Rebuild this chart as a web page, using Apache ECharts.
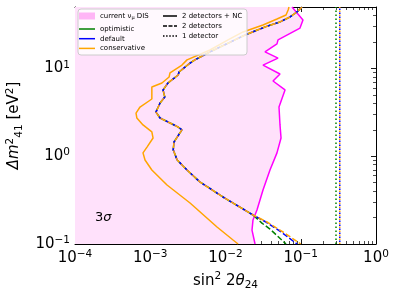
<!DOCTYPE html>
<html><head><meta charset="utf-8">
<script src="https://cdn.jsdelivr.net/npm/echarts@6/dist/echarts.min.js"></script>
<style>html,body{margin:0;padding:0;background:#fff}#c{width:399px;height:299px}</style>
</head><body><div id="c"></div>
<script>
// ---- axis ranges / tick labels (log10 exponents) ----
const xLimits = [1e-4, 1];
const yLimits = [0.1, 50];
const xTickExp = [-4, -3, -2, -1, 0];
const yTickExp = [-1, 0, 1];

// ---- current nu_mu DIS boundary (magenta) ----
const disX = [0.0766, 0.107, 0.0977, 0.0499, 0.0483, 0.0335, 0.0499, 0.0315, 0.053, 0.0428, 0.0618, 0.0514, 0.053, 0.0547, 0.0483, 0.039, 0.0315, 0.0262, 0.0232, 0.0225, 0.0247];
const disY = [50, 35.6, 28.8, 21.1, 19.0, 15.4, 13.1, 10.9, 8.63, 7.18, 5.68, 3.63, 2.27, 1.61, 1.09, 0.696, 0.412, 0.244, 0.188, 0.144, 0.1];

// ---- conservative, 2 detectors + NC (orange solid) ----
const consNCx = [0.0698, 0.068, 0.0637, 0.0483, 0.0315, 0.0171, 0.0108, 0.00622, 0.00308, 0.00264, 0.00183, 0.00178, 0.00143, 0.00105, 0.00105, 0.000731, 0.000647, 0.000664, 0.000801, 0.00105, 0.00109, 0.000905, 0.000801, 0.000852, 0.00105, 0.00167, 0.00338, 0.00771, 0.0126, 0.0147];
const consNCy = [50, 46.2, 40.6, 36.5, 31.2, 26.0, 21.1, 16.2, 12.5, 10.9, 8.87, 7.98, 6.82, 6.14, 4.48, 3.63, 3.10, 2.72, 2.27, 1.89, 1.61, 1.27, 1.09, 0.905, 0.696, 0.470, 0.293, 0.156, 0.111, 0.1];

// ---- 2 detectors (dashed) ----
const cons2x = [0.104, 0.0891, 0.072, 0.053, 0.0335, 0.0182, 0.00622, 0.00393, 0.00338, 0.00241, 0.00235, 0.00172, 0.00148, 0.00156, 0.00135, 0.00119, 0.00135, 0.00183, 0.00234, 0.00264, 0.00248, 0.00207, 0.00202, 0.00228, 0.00308, 0.00458, 0.00926, 0.0232, 0.0356, 0.0581, 0.1];
const cons2y = [50, 43.9, 38.5, 33.8, 29.6, 24.0, 15.4, 12.5, 11.5, 9.10, 8.41, 6.82, 5.68, 4.72, 4.04, 3.18, 2.72, 2.39, 2.15, 1.99, 1.84, 1.45, 1.18, 0.905, 0.696, 0.508, 0.343, 0.214, 0.178, 0.137, 0.1];
const def2x = [0.104, 0.0891, 0.072, 0.053, 0.0335, 0.0182, 0.00622, 0.00393, 0.00338, 0.00241, 0.00235, 0.00172, 0.00148, 0.00156, 0.00135, 0.00119, 0.00135, 0.00183, 0.00234, 0.00264, 0.00248, 0.00207, 0.00202, 0.00228, 0.00308, 0.00458, 0.00926, 0.0232, 0.0345, 0.0547, 0.0891];
const def2y = [50, 43.9, 38.5, 33.8, 29.6, 24.0, 15.4, 12.5, 11.5, 9.10, 8.41, 6.82, 5.68, 4.72, 4.04, 3.18, 2.72, 2.39, 2.15, 1.99, 1.84, 1.45, 1.18, 0.905, 0.696, 0.508, 0.343, 0.214, 0.178, 0.137, 0.1];
const opt2x = [0.104, 0.0891, 0.072, 0.053, 0.0335, 0.0182, 0.00622, 0.00393, 0.00338, 0.00241, 0.00235, 0.00172, 0.00148, 0.00156, 0.00135, 0.00119, 0.00135, 0.00183, 0.00234, 0.00264, 0.00248, 0.00207, 0.00202, 0.00228, 0.00308, 0.00458, 0.00926, 0.0232, 0.0305, 0.039, 0.0637];
const opt2y = [50, 43.9, 38.5, 33.8, 29.6, 24.0, 15.4, 12.5, 11.5, 9.10, 8.41, 6.82, 5.68, 4.72, 4.04, 3.18, 2.72, 2.39, 2.15, 1.99, 1.84, 1.45, 1.18, 0.905, 0.696, 0.508, 0.343, 0.214, 0.173, 0.148, 0.1];

// ---- 1 detector (dotted) ----
const opt1x = [0.294, 0.294];
const opt1y = [0.1, 50];
const def1x = [0.33, 0.33];
const def1y = [0.1, 50];
const cons1x = [0.33, 0.33];
const cons1y = [0.1, 50];

const F = 'DejaVu Sans';
const L = Math.log10;
const pairs = (xs, ys) => xs.map((x, i) => [L(x), L(ys[i])]);

const minorExp = (lo, hi) => {
  const out = [];
  for (let d = lo; d < hi; d++) for (let k = 2; k <= 9; k++) {
    const v = L(k) + d; if (v < hi) out.push(v);
  }
  return out;
};
const yMax = L(yLimits[1]);
const xMinor = minorExp(-4, 0);
const yMinor = minorExp(-1, yMax);

const fmt = v => { const e = Math.round(v); return '{b|10}{s|' + (e < 0 ? '\u2212' + (-e) : String(e)) + '}'; };
const labRich = {
  b: {fontSize: 15, fontFamily: F, color: '#000', lineHeight: 18},
  s: {fontSize: 10.5, fontFamily: F, color: '#000', lineHeight: 10, verticalAlign: 'top'}
};

function ax(o) {
  return Object.assign({
    type: 'value', splitLine: {show: false},
    axisLine: {show: true, onZero: false, lineStyle: {color: '#000', width: 1}},
    axisTick: {show: false},
    axisLabel: {show: false}
  }, o);
}
const hiddenLine = {show: false, onZero: false};
const majTick = vals => ({show: true, inside: true, length: 5, customValues: vals, lineStyle: {color: '#000', width: 0.9}});
const minTick = vals => ({show: true, inside: true, length: 3, customValues: vals, lineStyle: {color: '#000', width: 0.7}});

const xr = {min: L(xLimits[0]), max: L(xLimits[1])};
const yr = {min: L(yLimits[0]), max: yMax};

const xAxis = [
  ax(Object.assign({gridIndex: 0, position: 'bottom', axisTick: majTick(xTickExp),
    axisLabel: {show: true, customValues: xTickExp, formatter: fmt, rich: labRich, fontSize: 15, margin: 5, showMinLabel: true, showMaxLabel: true, hideOverlap: false},
    name: '{n|sin}{sup|2}{n| 2}{i|\u03b8}{sub|24}', nameLocation: 'middle', nameGap: 27,
    nameTextStyle: {fontSize: 15, fontFamily: F, color: '#000', rich: {
      n: {fontSize: 15, fontFamily: F, color: '#000', lineHeight: 20},
      i: {fontSize: 15, fontFamily: F, color: '#000', fontStyle: 'italic', lineHeight: 20},
      sup: {fontSize: 10.5, fontFamily: F, color: '#000', lineHeight: 12, verticalAlign: 'top'},
      sub: {fontSize: 10.5, fontFamily: F, color: '#000', lineHeight: 12, verticalAlign: 'bottom'}
    }}}, xr)),
  ax(Object.assign({gridIndex: 0, position: 'top', axisTick: majTick(xTickExp)}, xr)),
  ax(Object.assign({gridIndex: 1, position: 'bottom', axisLine: hiddenLine, axisTick: minTick(xMinor)}, xr)),
  ax(Object.assign({gridIndex: 1, position: 'top', axisLine: hiddenLine, axisTick: minTick(xMinor)}, xr))
];
const yAxis = [
  ax(Object.assign({gridIndex: 0, position: 'left', axisTick: majTick(yTickExp),
    axisLabel: {show: true, customValues: yTickExp, formatter: fmt, rich: labRich, fontSize: 15, margin: 5, showMinLabel: true, showMaxLabel: true, hideOverlap: false},
    name: '{i|\u0394m}{sup|2}{sub|41}{n| [eV}{sup|2}{n|]}', nameLocation: 'middle', nameGap: 50,
    nameTextStyle: {fontSize: 15, fontFamily: F, color: '#000', rich: {
      n: {fontSize: 15, fontFamily: F, color: '#000', lineHeight: 20},
      i: {fontSize: 15, fontFamily: F, color: '#000', fontStyle: 'italic', lineHeight: 20},
      sup: {fontSize: 10.5, fontFamily: F, color: '#000', lineHeight: 12, verticalAlign: 'top'},
      sub: {fontSize: 10.5, fontFamily: F, color: '#000', lineHeight: 12, verticalAlign: 'bottom'}
    }}}, yr)),
  ax(Object.assign({gridIndex: 0, position: 'right', axisTick: majTick(yTickExp)}, yr)),
  ax(Object.assign({gridIndex: 1, position: 'left', axisLine: hiddenLine, axisTick: minTick(yMinor)}, yr)),
  ax(Object.assign({gridIndex: 1, position: 'right', axisLine: hiddenLine, axisTick: minTick(yMinor)}, yr))
];

const lineS = (name, xs, ys, color, type, z, off) => ({
  name, type: 'line', xAxisIndex: 0, yAxisIndex: 0, data: pairs(xs, ys), showSymbol: false, symbol: 'none',
  z, silent: true, animation: false, clip: true,
  lineStyle: {color, width: 1.5, type, dashOffset: off || 0}, color
});
const dummy = (name, color) => ({name, type: 'line', data: [], color, showSymbol: false, lineStyle: {color}});

const DASH = [5.5, 2.4], DOT = [1.5, 2.5];
const series = [
  {
    name: 'current \u03bd_\u03bc DIS', type: 'custom', xAxisIndex: 0, yAxisIndex: 0, z: 1, silent: true, clip: true,
    color: '#ffb5f6', data: [[-2, 0]],
    renderItem: (params, api) => {
      const pts = disX.map((x, i) => api.coord([L(x), L(disY[i])]));
      pts.push(api.coord([L(xLimits[0]), L(yLimits[0])]));
      pts.push(api.coord([L(xLimits[0]), L(yLimits[1])]));
      return {type: 'polygon', shape: {points: pts}, style: {fill: '#ffe1fb', stroke: null}};
    }
  },
  lineS('disLine', disX, disY, '#ff00ff', 'solid', 3),
  lineS('consNC', consNCx, consNCy, '#ffa500', 'solid', 4),
  lineS('opt2', opt2x, opt2y, '#008000', DASH, 5, 5.2),
  lineS('def2', def2x, def2y, '#0000ff', DASH, 6, 2.6),
  lineS('cons2', cons2x, cons2y, '#ffa500', DASH, 7, 0),
  lineS('opt1', opt1x, opt1y, '#008000', DOT, 5, 0),
  lineS('def1', def1x, def1y, '#0000ff', DOT, 6, 2),
  lineS('cons1', cons1x, cons1y, '#ffa500', DOT, 7, 0),
  dummy('optimistic', '#008000'),
  dummy('default', '#0000ff'),
  dummy('conservative', '#ffa500'),
  dummy('2 detectors + NC', '#000'),
  dummy('2 detectors', '#000'),
  dummy('1 detector', '#000')
];

const solid16 = 'path://M0,0H16V1.5H0Z';
const solid14 = 'path://M0,0H14V1.5H0Z';
const dash14 = 'path://M0,0H4V1.5H0ZM5.5,0H9.5V1.5H5.5ZM11,0H14V1.5H11Z';
const dot14 = 'path://M0,0H1.5V1.5H0ZM3.1,0H4.6V1.5H3.1ZM6.25,0H7.75V1.5H6.25ZM9.4,0H10.9V1.5H9.4ZM12.5,0H14V1.5H12.5Z';

const legTxt = {fontSize: 7, fontFamily: F, color: '#000', lineHeight: 9,
  rich: {sub: {fontSize: 5, fontFamily: F, color: '#000', verticalAlign: 'bottom', lineHeight: 7}}};
const legBase = {orient: 'vertical', padding: 0, selectedMode: false, z: 20, textStyle: legTxt, itemStyle: {borderWidth: 0}};

const option = {
  animation: false,
  backgroundColor: '#fff',
  grid: [
    {left: 75, right: 23, top: 7, bottom: 55, outerBoundsMode: 'none', containLabel: false},
    {left: 75, right: 23, top: 7, bottom: 55, outerBoundsMode: 'none', containLabel: false}
  ],
  xAxis, yAxis, series,
  legend: [
    Object.assign({}, legBase, {left: 79, top: 11.5, itemWidth: 16, itemHeight: 7, itemGap: 1,
      data: [{name: 'current \u03bd_\u03bc DIS', icon: 'rect'}],
      formatter: () => 'current \u03bd{sub|\u03bc} DIS'}),
    Object.assign({}, legBase, {left: 79, top: 24.5, itemWidth: 16, itemHeight: 1.5, itemGap: 0.7,
      data: [{name: 'optimistic', icon: solid16}, {name: 'default', icon: solid16}, {name: 'conservative', icon: solid16}]}),
    Object.assign({}, legBase, {left: 163, top: 11.5, itemWidth: 14, itemHeight: 1.5, itemGap: 1,
      data: [{name: '2 detectors + NC', icon: solid14}, {name: '2 detectors', icon: dash14}, {name: '1 detector', icon: dot14}]})
  ],
  graphic: {elements: [
    {type: 'rect', z: 10, silent: true, shape: {x: 78, y: 9, width: 169, height: 46, r: 3},
      style: {fill: 'rgba(255,255,255,0.8)', stroke: '#cccccc', lineWidth: 1}},
    {type: 'text', z: 10, silent: true, x: 95, y: 218,
      style: {text: '{n|3}{i|\u03c3}', verticalAlign: 'middle', align: 'left',
        rich: {n: {fontSize: 13, fontFamily: F, fill: '#000'}, i: {fontSize: 13, fontFamily: F, fontStyle: 'italic', fill: '#000'}}}}
  ]}
};
const chart = echarts.init(document.getElementById('c'), null, {renderer: 'canvas'});
chart.setOption(option);
</script>
</body></html>
